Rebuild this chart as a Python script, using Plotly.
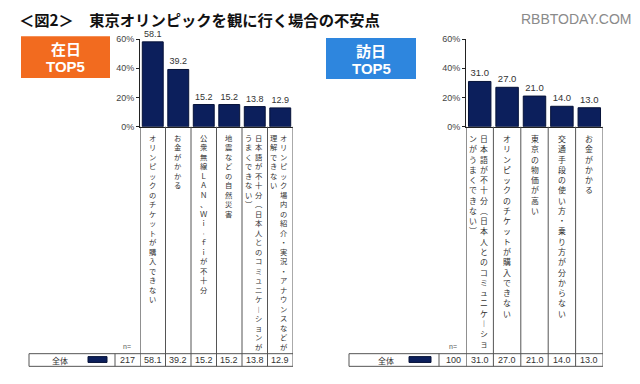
import plotly.graph_objects as go

W, H = 640, 384

# ---------------- data ----------------
title_text = "＜図2＞　東京オリンピックを観に行く場合の不安点"
watermark_text = "RBBTODAY.COM"

zainichi_title = ["在日", "TOP5"]
zainichi_labels = [
    "オリンピックのチケットが購入できない",
    "お金がかかる",
    "公衆無線ＬＡＮ、Ｗｉ－ｆｉが不十分",
    "地震などの自然災害",
    "日本語が不十分（日本人とのコミュニケーションがうまくできない）",
    "オリンピック場内の紹介・実況・アナウンスなどが理解できない",
]
zainichi_values = [58.1, 39.2, 15.2, 15.2, 13.8, 12.9]
zainichi_n = 217

honichi_title = ["訪日", "TOP5"]
honichi_labels = [
    "日本語が不十分（日本人とのコミュニケーションがうまくできない）",
    "オリンピックのチケットが購入できない",
    "東京の物価が高い",
    "交通手段の使い方・乗り方が分からない",
    "お金がかかる",
]
honichi_values = [31.0, 27.0, 21.0, 14.0, 13.0]
honichi_n = 100

row_label = "全体"
n_label = "n="
y_tick_vals = [0, 20, 40, 60]
y_tick_text = ["0%", "20%", "40%", "60%"]

# ---------------- style ----------------
NAVY = "#0c1f5c"
TXT = "#333333"
LINE = "#555555"
JP = "Noto Sans CJK JP"
NUM = "Arial, Liberation Sans, sans-serif"


def py(y):
    return 1 - y / H


def px(x):
    return x / W


VMAP = {"（": "︵", "）": "︶", "ー": "︱", "－": "︲"}


def vertical(s):
    return "<br>".join(VMAP.get(c, c) for c in s)


def ann(**kw):
    d = dict(showarrow=False, xanchor="center", yanchor="middle")
    d.update(kw)
    return d


fig = go.Figure()

panels = [
    dict(vals=zainichi_values, labels=zainichi_labels, n=zainichi_n, title=zainichi_title,
         xa="x", ya="y", xdom=(140, 293), wrap=23, fs=7.3, d=10, tfs=9,
         box=(21, 32, 110, 75), boxcol="#f26b1f",
         tbl_left=29, tbl_sep=115, row_x=60, sw=(88, 107), n_x=127),
    dict(vals=honichi_values, labels=honichi_labels, n=honichi_n, title=honichi_title,
         xa="x2", ya="y2", xdom=(466, 603), wrap=21, fs=7.9, d=11, tfs=9.5,
         box=(326, 34, 416, 76), boxcol="#2e86de",
         tbl_left=349, tbl_sep=439, row_x=386, sw=(409, 431), n_x=453),
]

shapes = []
annotations = []

for k, p in enumerate(panels):
    ncat = len(p["vals"])
    cats = list(range(ncat))
    fig.add_trace(go.Bar(
        x=cats, y=p["vals"], xaxis=p["xa"], yaxis=p["ya"],
        marker=dict(color=NAVY, line=dict(color="#061238", width=1)),
        width=0.82,
        text=[f"{v:.1f}" for v in p["vals"]], textposition="outside",
        textfont=dict(size=p["tfs"], color=TXT, family=NUM),
        cliponaxis=False, showlegend=False, hoverinfo="skip",
    ))

    # column separators (from baseline through the table)
    for b in range(ncat + 1):
        shapes.append(dict(type="line", xref=p["xa"], yref="paper",
                           x0=b - 0.5, x1=b - 0.5, y0=py(125), y1=py(371),
                           line=dict(color=LINE if b > 0 else "#222", width=1)))

    # vertical category labels
    for i, lab in enumerate(p["labels"]):
        chunks = [lab[j:j + p["wrap"]] for j in range(0, len(lab), p["wrap"])]
        m = len(chunks)
        for j, ch in enumerate(chunks):
            shift = ((m - 1) / 2 - j) * p["d"] - (1 if m > 1 else 0)
            annotations.append(ann(
                xref=p["xa"], yref="paper", x=i, y=py(129), xshift=shift,
                yanchor="top", text=vertical(ch),
                font=dict(size=p["fs"], color=TXT, family=JP)))

    # table
    x0, x1 = p["tbl_left"], p["xdom"][1]
    for yy in (358, 371):
        shapes.append(dict(type="line", xref="paper", yref="paper",
                           x0=px(x0), x1=px(x1), y0=py(yy), y1=py(yy),
                           line=dict(color=LINE, width=1)))
    for xx in (x0, p["tbl_sep"]):
        shapes.append(dict(type="line", xref="paper", yref="paper",
                           x0=px(xx), x1=px(xx), y0=py(358), y1=py(371),
                           line=dict(color=LINE, width=1)))
    shapes.append(dict(type="rect", xref="paper", yref="paper",
                       x0=px(p["sw"][0]), x1=px(p["sw"][1]), y0=py(367), y1=py(361),
                       fillcolor=NAVY, line=dict(color="#061238", width=1)))
    annotations.append(ann(xref="paper", yref="paper", x=px(p["row_x"]), y=py(364.5),
                           text=row_label, font=dict(size=8, color=TXT, family=JP)))
    annotations.append(ann(xref="paper", yref="paper", x=px(p["n_x"]), y=py(364.5),
                           text=str(p["n"]), font=dict(size=9, color=TXT, family=NUM)))
    annotations.append(ann(xref="paper", yref="paper", x=px(p["n_x"]), y=py(351),
                           text=n_label, font=dict(size=7, color="#555", family=NUM)))
    for i, v in enumerate(p["vals"]):
        annotations.append(ann(xref=p["xa"], yref="paper", x=i, y=py(364.5),
                               text=f"{v:.1f}", font=dict(size=9, color=TXT, family=NUM)))

    # title box
    bx0, by0, bx1, by1 = p["box"]
    shapes.append(dict(type="rect", xref="paper", yref="paper",
                       x0=px(bx0), x1=px(bx1), y0=py(by1), y1=py(by0),
                       fillcolor=p["boxcol"], line=dict(width=0)))
    cx = px((bx0 + bx1) / 2)
    annotations.append(ann(xref="paper", yref="paper", x=cx, y=py(by0 + 13),
                           text="<b>" + p["title"][0] + "</b>",
                           font=dict(size=15, color="white", family=JP)))
    annotations.append(ann(xref="paper", yref="paper", x=cx, y=py(by0 + 31),
                           text="<b>" + p["title"][1] + "</b>",
                           font=dict(size=15, color="white", family=NUM)))

# page title and watermark
annotations.append(ann(xref="paper", yref="paper", x=px(17), y=py(14), xanchor="left",
                       text="<b>" + title_text + "</b>",
                       font=dict(size=15.3, color="#111", family=JP)))
annotations.append(ann(xref="paper", yref="paper", x=px(633), y=py(14), xanchor="right",
                       text=watermark_text, font=dict(size=14, color="#8a8a8a", family=NUM)))

yaxis_common = dict(range=[0, 60], tickvals=y_tick_vals, ticktext=y_tick_text,
                    showgrid=False, zeroline=False, showline=True, linecolor="#222",
                    linewidth=1, ticks="outside", ticklen=3, tickcolor="#222",
                    tickfont=dict(size=9, color="#444", family=NUM),
                    domain=[py(125), py(35)], fixedrange=True)
xaxis_common = dict(showticklabels=False, showgrid=False, zeroline=False,
                    showline=True, linecolor="#222", linewidth=1, ticks="", fixedrange=True)

fig.update_layout(
    width=W, height=H, margin=dict(l=0, r=0, t=0, b=0),
    paper_bgcolor="white", plot_bgcolor="rgba(0,0,0,0)",
    xaxis=dict(**xaxis_common, domain=[px(140), px(293)], range=[-0.5, 5.5], anchor="y"),
    yaxis=dict(**yaxis_common, anchor="x"),
    xaxis2=dict(**xaxis_common, domain=[px(466), px(603)], range=[-0.5, 4.5], anchor="y2"),
    yaxis2=dict(**yaxis_common, anchor="x2"),
    shapes=shapes, annotations=annotations, bargap=0.18,
)

fig.write_html("out.html", config={"displayModeBar": False},
               post_script="document.body.style.margin='0';")
